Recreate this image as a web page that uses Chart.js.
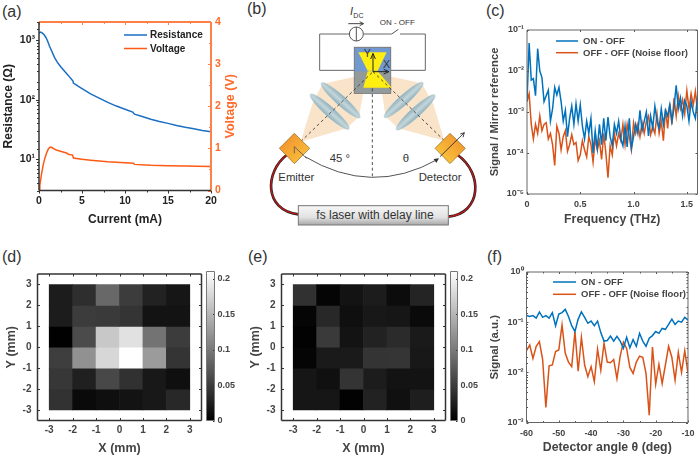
<!DOCTYPE html>
<html>
<head>
<meta charset="utf-8">
<title>THz emission panels</title>
<script src="https://cdn.jsdelivr.net/npm/chart.js@4/dist/chart.umd.min.js"></script>
<style>
  html, body { margin: 0; padding: 0; background: #fff; overflow: hidden; }
  #page { position: relative; width: 700px; height: 457px; overflow: hidden; font-family: "Liberation Sans", Arial, sans-serif; }
  #page canvas { position: absolute; }
  .tag { position: absolute; font-size: 16px; color: #333; line-height: 18px; }
  #schematic { position: absolute; left: 235px; top: 0; width: 250px; height: 235px; overflow: visible; }
  #schematic text { font-family: "Liberation Sans", Arial, sans-serif; fill: #333; }
</style>
</head>
<body>
<div id="page">
  <span class="tag" style="left:2px;top:3px">(a)</span>
  <span class="tag" style="left:247px;top:0px">(b)</span>
  <span class="tag" style="left:486px;top:2px">(c)</span>
  <span class="tag" style="left:2px;top:248px">(d)</span>
  <span class="tag" style="left:248px;top:248px">(e)</span>
  <span class="tag" style="left:487px;top:248px">(f)</span>

  <!-- (b) experiment sketch, viewBox is 3x the page pixels -->
  <svg id="schematic" viewBox="0 0 750 705">
    <defs>
      <linearGradient id="emit" x1="0" y1="0" x2="1" y2="1"><stop offset="0" stop-color="#f08a2c"/><stop offset="1" stop-color="#fbc83e"/></linearGradient>
      <linearGradient id="det" x1="1" y1="0" x2="0" y2="1"><stop offset="0" stop-color="#f08a2c"/><stop offset="1" stop-color="#fbd040"/></linearGradient>
      <linearGradient id="boxFill" x1="0" y1="0" x2="0" y2="1"><stop offset="0" stop-color="#f6f6f6"/><stop offset="0.6" stop-color="#e2e2e2"/><stop offset="1" stop-color="#a8a8a8"/></linearGradient>
      <linearGradient id="lens" x1="0" y1="0" x2="0" y2="1"><stop offset="0" stop-color="#8fb0bc"/><stop offset="0.5" stop-color="#c4d6da"/><stop offset="1" stop-color="#8fb0bc"/></linearGradient>
    </defs>
    <path d="M358 102 H254 V211 H358 M467 211 H571 V102 H495 M470 102 H386" fill="none" stroke="#666" stroke-width="3"/>
    <path d="M470 102 L490 88" fill="none" stroke="#555" stroke-width="3"/>
    <circle cx="364" cy="102" r="21" fill="#fff" stroke="#555" stroke-width="3"/>
    <line x1="364" y1="81" x2="364" y2="123" stroke="#555" stroke-width="3"/>
    <path d="M340 71 H384 M374 65 L386 71 L374 77" fill="none" stroke="#444" stroke-width="3"/>
    <text x="345" y="45" font-size="33" font-style="italic">I</text>
    <text x="355" y="54" font-size="21">DC</text>
    <text x="434" y="75" font-size="24">ON - OFF</text>

    <polygon points="197,425 232,312 262,252 395,222 372,350 335,385" fill="#f9e4ca"/>
    <polygon points="628,422 595,312 560,250 432,222 452,350 490,385" fill="#f9e4ca"/>

    <rect x="358" y="142" width="109" height="138" fill="#7199d0" stroke="#777" stroke-width="3"/>
    <rect x="359" y="214" width="107" height="65" fill="#929a9a"/>
    <polygon points="370,157 455,157 428,212 398,212" fill="#ffee10"/>
    <polygon points="398,214 428,214 470,263 385,263" fill="#ffee10"/>

    <ellipse cx="317" cy="301" rx="78" ry="15" fill="url(#lens)" stroke="#a8c0c8" transform="rotate(42 317 301)"/>
    <ellipse cx="284" cy="335" rx="78" ry="15" fill="url(#lens)" stroke="#a8c0c8" transform="rotate(42 284 335)"/>
    <ellipse cx="506" cy="300" rx="78" ry="15" fill="url(#lens)" stroke="#a8c0c8" transform="rotate(-42 506 300)"/>
    <ellipse cx="542" cy="337" rx="78" ry="15" fill="url(#lens)" stroke="#a8c0c8" transform="rotate(-42 542 337)"/>

    <g stroke="#333" stroke-width="2.5" stroke-dasharray="9 8" fill="none">
      <line x1="197" y1="425" x2="414" y2="215"/>
      <line x1="628" y1="422" x2="414" y2="215"/>
      <line x1="412" y1="265" x2="412" y2="530"/>
    </g>
    <path d="M414 215 V165 M407 177 L414 160 L421 177 M414 215 H458 M446 208 L462 215 L446 222" fill="none" stroke="#222" stroke-width="3"/>
    <text x="386" y="172" font-size="32">Y</text>
    <text x="444" y="204" font-size="32">X</text>

    <path d="M210 470 Q410 590 608 478" fill="none" stroke="#555" stroke-width="3"/>
    <path d="M596 477 L612 475 L604 489 Z" fill="#333"/>
    <text x="284" y="485" font-size="34">45 °</text>
    <text x="503" y="485" font-size="34">θ</text>

    <path d="M155 465 C90 515 85 630 190 643" fill="none" stroke="#222" stroke-width="8"/>
    <path d="M155 465 C90 515 85 630 190 643" fill="none" stroke="#c01818" stroke-width="4"/>
    <path d="M668 465 C745 520 740 640 640 650" fill="none" stroke="#222" stroke-width="8"/>
    <path d="M668 465 C745 520 740 640 640 650" fill="none" stroke="#c01818" stroke-width="4"/>

    <polygon points="178,400 224,445 178,491 133,445" fill="url(#emit)" stroke="#8a6a20" stroke-width="2"/>
    <path d="M178 440 L215 475 M178 440 L178 460" fill="none" stroke="#555" stroke-width="2.5"/>
    <polygon points="645,400 691,445 645,491 600,445" fill="url(#det)" stroke="#8a6a20" stroke-width="2"/>
    <path d="M615 470 L688 398 M676 402 L688 398 L684 412" fill="none" stroke="#222" stroke-width="2.5"/>

    <text x="130" y="543" font-size="34">Emitter</text>
    <text x="551" y="543" font-size="34">Detector</text>

    <rect x="190" y="617" width="450" height="58" fill="url(#boxFill)" stroke="#777" stroke-width="3"/>
    <text x="420" y="656" font-size="36" text-anchor="middle">fs laser with delay line</text>
  </svg>
</div>

<script>
// (a) current sweep
const curR = [0, 0.2, 0.4, 0.6, 0.8, 1, 1.2, 1.5, 1.8, 2.1, 2.5, 3, 3.4, 3.8, 3.95, 4, 4.5, 5, 6, 7, 8, 9, 10, 10.9, 11.1, 12, 13, 14, 15, 16, 17, 18, 19, 20];
const resistance = [1300, 1350, 1300, 1220, 1100, 960, 800, 640, 510, 430, 360, 295, 255, 218, 205, 190, 170, 153, 125, 106, 90, 78, 69, 62, 57, 52, 47, 43, 40, 37, 34.5, 32.5, 30.5, 29];
const curV = [0, 0.1, 0.3, 0.5, 0.7, 0.9, 1.1, 1.3, 1.5, 2, 2.5, 3.2, 3.4, 3.9, 4, 5, 6, 8, 10, 11, 11.1, 13, 15, 17, 20];
const voltage = [0, 0.13, 0.4, 0.62, 0.78, 0.9, 0.99, 1.03, 1.02, 0.96, 0.93, 0.89, 0.86, 0.84, 0.77, 0.74, 0.72, 0.68, 0.66, 0.645, 0.62, 0.6, 0.59, 0.58, 0.57];

// (c) spectrum
const freq = [0, 0.02, 0.04, 0.06, 0.08, 0.1, 0.12, 0.14, 0.16, 0.18, 0.2, 0.22, 0.24, 0.26, 0.28, 0.3, 0.32, 0.34, 0.36, 0.38,
  0.4, 0.42, 0.44, 0.46, 0.48, 0.5, 0.52, 0.54, 0.56, 0.58, 0.6, 0.62, 0.64, 0.66, 0.68, 0.7, 0.72, 0.74, 0.76, 0.78,
  0.8, 0.82, 0.84, 0.86, 0.88, 0.9, 0.92, 0.94, 0.96, 0.98, 1, 1.02, 1.04, 1.06, 1.08, 1.1, 1.12, 1.14, 1.16, 1.18,
  1.2, 1.22, 1.24, 1.26, 1.28, 1.3, 1.32, 1.34, 1.36, 1.38, 1.4, 1.42, 1.44, 1.46, 1.48, 1.5, 1.52, 1.54, 1.56, 1.58, 1.6];
const specOn = [1.8e-3, 4.8e-2, 6e-3, 6.5e-3, 2.5e-3, 3.5e-2, 1e-2, 7e-3, 1.8e-3, 2.5e-3, 3.4e-3, 6e-4, 1.2e-3, 4e-3, 2.6e-3, 4e-3, 1.8e-3, 6e-4, 1.1e-3, 2.5e-4,
  7e-4, 1.4e-3, 5e-4, 1.6e-3, 6e-4, 1.5e-3, 4.5e-4, 2.2e-4, 6e-4, 3e-4, 7e-4, 1e-4, 3.5e-4, 1.3e-4, 5e-4, 1.6e-4, 7e-4, 2e-4, 7.5e-4, 2.5e-4,
  1.5e-4, 5e-4, 3e-4, 6e-4, 2.2e-4, 1.5e-4, 4.5e-4, 1.4e-4, 7e-4, 1.3e-4, 2.5e-4, 5e-4, 3e-4, 1.1e-3, 3.5e-4, 6e-4, 1e-3, 2.6e-4, 8e-4, 4e-4,
  1.4e-3, 6e-4, 4e-4, 1.2e-3, 5e-4, 1.1e-3, 8e-4, 1.5e-3, 6e-4, 1.3e-3, 4.5e-3, 1.2e-3, 2.2e-3, 8e-4, 1.9e-3, 1.4e-3, 6e-4, 1.8e-3, 1e-3, 7e-4, 2.5e-3];
const specOff = [1.8e-3, 2.8e-3, 5e-4, 2.2e-4, 5e-4, 3e-4, 8e-4, 3.5e-4, 5e-4, 5.5e-4, 2.2e-4, 3e-4, 1.6e-4, 5e-5, 4.5e-4, 3e-4, 1.2e-4, 2.5e-4, 3.5e-4, 1.1e-4,
  1.6e-4, 2.8e-4, 1.6e-4, 1.8e-4, 6.5e-5, 9e-5, 2e-4, 1.2e-4, 8e-5, 2.5e-4, 1.6e-4, 6e-5, 2.2e-4, 1.2e-4, 2e-4, 7e-5, 3e-4, 1e-4, 2.5e-5, 1.5e-4,
  9e-5, 3e-4, 1.5e-4, 3e-4, 2e-4, 5e-4, 1.6e-4, 5e-4, 2.5e-4, 1.2e-4, 5.5e-4, 3e-4, 5e-4, 2.5e-4, 5.5e-4, 3e-4, 6e-4, 8e-4, 2.8e-4, 4.5e-4,
  3e-4, 9e-4, 3e-4, 6e-4, 2e-4, 1.2e-3, 4e-4, 1.6e-3, 5e-4, 2.2e-3, 8e-4, 2.5e-3, 1.2e-3, 2e-3, 9e-4, 3.3e-3, 1.2e-3, 2.8e-3, 1.5e-3, 3.2e-3, 1e-3];

// (d) and (e) maps, rows from top (Y 3) to bottom (Y -3)
const cellX = [-2.5, -1.5, -0.5, 0.5, 1.5, 2.5];
const rowSpans = [[2, 3], [1, 2], [0, 1], [-1, 0], [-2, -1], [-3, -2]];
const mapTicks = [-3, -2, -1, 0, 1, 2, 3];
const mapOn = [
  [0.023, 0.038, 0.086, 0.049, 0.028, 0.018],
  [0.023, 0.049, 0.048, 0.043, 0.016, 0.016],
  [0.001, 0.062, 0.165, 0.185, 0.095, 0.049],
  [0.051, 0.119, 0.177, 0.21, 0.128, 0.043],
  [0.045, 0.026, 0.059, 0.04, 0.02, 0.012],
  [0.041, 0.008, 0.012, 0.016, 0.02, 0.033]
];
const mapOff = [
  [0.04, 0.004, 0.016, 0.023, 0.01, 0.03],
  [0.004, 0.033, 0.012, 0.02, 0.018, 0.008],
  [0.002, 0.048, 0.016, 0.028, 0.035, 0.021],
  [0.004, 0.021, 0.021, 0.043, 0.044, 0.02],
  [0.018, 0.013, 0.043, 0.023, 0.016, 0.016],
  [0.018, 0.018, 0.002, 0.028, 0.013, 0.025]
];
const colorMax = 0.21;

// (f) angle scan
const angle = [-60, -59, -58, -57, -56, -55, -54, -53, -52, -51, -50, -49, -48, -47, -46, -45, -44, -43, -42, -41, -40, -39, -38, -37, -36,
  -35, -34, -33, -32, -31, -30, -29, -28, -27, -26, -25, -24, -23, -22, -21, -20, -19, -18, -17, -16, -15, -14, -13, -12, -11, -10];
const angleOn = [0.136, 0.13, 0.135, 0.12, 0.16, 0.125, 0.135, 0.12, 0.155, 0.085, 0.145, 0.155, 0.18, 0.13, 0.085, 0.065, 0.115, 0.16, 0.125, 0.095, 0.105, 0.085, 0.105, 0.062, 0.042,
  0.043, 0.053, 0.042, 0.052, 0.042, 0.03, 0.05, 0.031, 0.045, 0.033, 0.06, 0.042, 0.033, 0.048, 0.054, 0.065, 0.06, 0.075, 0.072, 0.09, 0.115, 0.09, 0.105, 0.1, 0.125, 0.11];
const angleOff = [0.027, 0.035, 0.019, 0.033, 0.041, 0.018, 0.002, 0.0135, 0.014, 0.026, 0.028, 0.088, 0.024, 0.016, 0.013, 0.065, 0.0105, 0.05, 0.014, 0.0082, 0.013, 0.0065, 0.029, 0.011, 0.038,
  0.016, 0.0155, 0.018, 0.0075, 0.021, 0.04, 0.03, 0.0125, 0.0095, 0.016, 0.021, 0.02, 0.0095, 0.0014, 0.032, 0.0058, 0.0145, 0.006, 0.014, 0.033, 0.02, 0.007, 0.025, 0.01, 0.027, 0.0095];

const INK = '#444444';
const FONT = '"Liberation Sans", Arial, sans-serif';
const SUP = { '-': '⁻', '0': '⁰', '1': '¹', '2': '²', '3': '³', '4': '⁴', '5': '⁵' };

function zip(xs, ys) {
  return xs.map((x, i) => ({ x: x, y: ys[i] }));
}

function logLabel(v) {
  const e = Math.log10(v);
  if (Math.abs(e - Math.round(e)) > 1e-6) return '';
  return '10' + String(Math.round(e)).split('').map(c => SUP[c]).join('');
}

// tick marks (negative length points outward), frame, legend and the upward reading right title
const decor = {
  id: 'decor',
  afterDatasetsDraw(chart, args, o) {
    const c = chart.ctx, a = chart.chartArea;
    c.save();
    (o.marks || []).forEach(m => {
      const s = chart.scales[m.scale];
      c.strokeStyle = m.color;
      c.lineWidth = m.width || 1;
      s.ticks.forEach(t => {
        const major = t.label !== '' && t.label !== undefined;
        const len = major ? m.major : m.minor;
        if (!len) return;
        const p = Math.round(s.getPixelForValue(t.value)) + 0.5;
        (m.edges).forEach(e => {
          c.beginPath();
          if (e === 'left') { c.moveTo(a.left, p); c.lineTo(a.left + len, p); }
          if (e === 'right') { c.moveTo(a.right, p); c.lineTo(a.right - len, p); }
          if (e === 'top') { c.moveTo(p, a.top); c.lineTo(p, a.top + len); }
          if (e === 'bottom') { c.moveTo(p, a.bottom); c.lineTo(p, a.bottom - len); }
          c.stroke();
        });
      });
    });
    (o.frame || []).forEach(f => {
      c.strokeStyle = f.color;
      c.lineWidth = f.width;
      c.beginPath();
      if (f.edge === 'left') { c.moveTo(a.left, a.top); c.lineTo(a.left, a.bottom); }
      if (f.edge === 'right') { c.moveTo(a.right, a.top); c.lineTo(a.right, a.bottom); }
      if (f.edge === 'top') { c.moveTo(a.left, a.top); c.lineTo(a.right, a.top); }
      if (f.edge === 'bottom') { c.moveTo(a.left, a.bottom); c.lineTo(a.right, a.bottom); }
      c.stroke();
    });
    if (o.key) {
      c.textBaseline = 'middle';
      c.textAlign = 'left';
      c.font = 'bold ' + o.key.size + 'px ' + FONT;
      chart.data.datasets.forEach((d, i) => {
        const y = o.key.y[i] - chart.canvas.offsetTop;
        const x0 = o.key.x[0] - chart.canvas.offsetLeft;
        const x1 = o.key.x[1] - chart.canvas.offsetLeft;
        c.strokeStyle = d.borderColor;
        c.lineWidth = d.borderWidth;
        c.beginPath();
        c.moveTo(x0, y);
        c.lineTo(x1, y);
        c.stroke();
        c.fillStyle = o.key.color;
        c.fillText(d.label, o.key.x[2] - chart.canvas.offsetLeft, y + 0.5);
      });
    }
    if (o.sideTitle) {
      c.translate(o.sideTitle.x - chart.canvas.offsetLeft, (a.top + a.bottom) / 2);
      c.rotate(-Math.PI / 2);
      c.textAlign = 'center';
      c.textBaseline = 'middle';
      c.font = 'bold ' + o.sideTitle.size + 'px ' + FONT;
      c.fillStyle = o.sideTitle.color;
      c.fillText(o.sideTitle.text, 0, 0);
    }
    c.restore();
  }
};

// box = canvas on the page, plot = wanted plot area on the page (both [left, top, right, bottom])
function addChart(box, plot, type, data, scales, decorOpts) {
  const cv = document.createElement('canvas');
  cv.width = box[2] - box[0];
  cv.height = box[3] - box[1];
  cv.style.left = box[0] + 'px';
  cv.style.top = box[1] + 'px';
  document.getElementById('page').appendChild(cv);

  const sizes = {
    left: plot[0] - box[0],
    right: box[2] - plot[2],
    top: plot[1] - box[1],
    bottom: box[3] - plot[3]
  };
  Object.values(scales).forEach(s => {
    s.afterFit = axis => {
      if (axis.options.position === 'left' || axis.options.position === 'right') axis.width = sizes[axis.options.position];
      else axis.height = sizes[axis.options.position];
    };
  });
  const hasRight = Object.values(scales).some(s => s.position === 'right');
  const hasLeft = Object.values(scales).some(s => s.position === 'left');
  return new Chart(cv, {
    type: type,
    data: data,
    options: {
      responsive: false,
      animation: false,
      events: [],
      layout: {
        autoPadding: false,
        padding: {
          left: hasLeft ? 0 : sizes.left,
          right: hasRight ? 0 : sizes.right,
          top: sizes.top,
          bottom: 0
        }
      },
      scales: scales,
      plugins: { legend: { display: false }, tooltip: { enabled: false }, decor: decorOpts }
    },
    plugins: [decor]
  });
}

function axisOpts(position, extra, tickFont, tickColor, pad) {
  return Object.assign({
    position: position,
    grid: { display: false, drawTicks: false },
    border: { display: false },
    ticks: {
      autoSkip: false,
      maxRotation: 0,
      includeBounds: false,
      padding: pad,
      color: tickColor,
      font: { family: FONT, size: tickFont, weight: 'bold' }
    }
  }, extra);
}

function titled(text, size, color) {
  return { display: true, text: text, color: color, padding: 0, font: { family: FONT, size: size, weight: 'bold' } };
}

// (a)
const ax = axisOpts('bottom', { type: 'linear', min: 0, max: 20, title: titled('Current (mA)', 12, '#222') }, 10.5, '#222', 4);
ax.ticks.stepSize = 2.5;
ax.ticks.callback = v => (v % 5 === 0 ? String(v) : '');
const ay = axisOpts('left', { type: 'logarithmic', min: 3, max: 2000, title: titled('Resistance (Ω)', 12, '#222') }, 10.5, '#222', 4);
ay.ticks.callback = logLabel;
const ay2 = axisOpts('right', { type: 'linear', min: 0, max: 4 }, 10.5, '#ff6a2a', 4);
ay2.ticks.stepSize = 0.5;
ay2.ticks.callback = v => (v % 1 === 0 ? String(v) : '');
addChart([1, 10, 238, 227], [39, 22, 211, 190.5], 'scatter', {
  datasets: [
    { label: 'Resistance', data: zip(curR, resistance), yAxisID: 'y', showLine: true, pointRadius: 0, borderColor: '#1a6fc4', borderWidth: 1.5 },
    { label: 'Voltage', data: zip(curV, voltage), yAxisID: 'y2', showLine: true, pointRadius: 0, borderColor: '#ff5a14', borderWidth: 1.5 }
  ]
}, { x: ax, y: ay, y2: ay2 }, {
  marks: [
    { scale: 'x', edges: ['bottom'], major: -3, minor: -2, color: '#333' },
    { scale: 'x', edges: ['top'], major: 3, minor: 2, color: '#ff7f45' },
    { scale: 'y', edges: ['left'], major: -3, minor: -2, color: '#333' },
    { scale: 'y2', edges: ['right'], major: 3, minor: 2, color: '#ff7f45' }
  ],
  frame: [
    { edge: 'top', color: '#ff8048', width: 2 },
    { edge: 'right', color: '#ff8048', width: 2 },
    { edge: 'left', color: '#333', width: 1.5 },
    { edge: 'bottom', color: '#333', width: 1.5 }
  ],
  key: { x: [124, 147, 150], y: [35, 48.5], size: 10, color: '#222' },
  sideTitle: { x: 231, text: 'Voltage (V)', size: 12.5, color: '#ff6a2a' }
});

// (c)
const cx = axisOpts('bottom', { type: 'linear', min: 0, max: 1.6, title: titled('Frequency (THz)', 12.3, INK) }, 9, INK, 5);
cx.ticks.stepSize = 0.5;
const cy = axisOpts('left', { type: 'logarithmic', min: 1e-5, max: 1e-1, title: titled('Signal / Mirror reference', 11.2, INK) }, 9, INK, 3);
cy.ticks.callback = logLabel;
addChart([488, 10, 700, 227], [527, 30, 697.5, 194], 'scatter', {
  datasets: [
    { label: 'ON - OFF', data: zip(freq, specOn), showLine: true, pointRadius: 0, borderColor: '#0072BD', borderWidth: 1.5 },
    { label: 'OFF - OFF (Noise floor)', data: zip(freq, specOff), showLine: true, pointRadius: 0, borderColor: '#D95319', borderWidth: 1.5 }
  ]
}, { x: cx, y: cy }, {
  marks: [
    { scale: 'x', edges: ['bottom', 'top'], major: 2, minor: 0, color: '#555' },
    { scale: 'y', edges: ['left', 'right'], major: 2, minor: 0, color: '#555' }
  ],
  frame: ['top', 'right', 'left', 'bottom'].map(e => ({ edge: e, color: '#666', width: 1 })),
  key: { x: [556, 578, 583], y: [41, 52.7], size: 9.5, color: INK }
});

// (f)
const fx = axisOpts('bottom', { type: 'linear', min: -60, max: -10, title: titled('Detector angle θ (deg)', 12.3, INK) }, 9, INK, 5.5);
fx.ticks.stepSize = 5;
fx.ticks.callback = v => (v % 10 === 0 ? String(v) : '');
const fy = axisOpts('left', { type: 'logarithmic', min: 1e-3, max: 1, title: titled('Signal (a.u.)', 11.4, INK) }, 9, INK, 3);
fy.ticks.callback = logLabel;
addChart([488, 262, 700, 455], [526.5, 272, 694.5, 422.5], 'scatter', {
  datasets: [
    { label: 'ON - OFF', data: zip(angle, angleOn), showLine: true, pointRadius: 0, borderColor: '#0072BD', borderWidth: 1.5 },
    { label: 'OFF - OFF (Noise floor)', data: zip(angle, angleOff), showLine: true, pointRadius: 0, borderColor: '#D95319', borderWidth: 1.5 }
  ]
}, { x: fx, y: fy }, {
  marks: [
    { scale: 'x', edges: ['bottom', 'top'], major: 2, minor: 1.5, color: '#555' },
    { scale: 'y', edges: ['left', 'right'], major: 2, minor: 1.5, color: '#555' }
  ],
  frame: ['top', 'right', 'left', 'bottom'].map(e => ({ edge: e, color: '#666', width: 1 })),
  key: { x: [553, 576, 581], y: [282, 294.3], size: 9.5, color: INK }
});

// (d) and (e) maps are floating bars, one dataset per row
function grey(v) {
  const g = Math.round(Math.min(v / colorMax, 1) * 255);
  return 'rgb(' + g + ',' + g + ',' + g + ')';
}

function useMapTicks(axis) {
  axis.ticks = mapTicks.map(v => ({ value: v }));
}

function mapChart(values, box, plot) {
  const x = axisOpts('bottom', { type: 'linear', min: -3.5, max: 3.5, offset: false, afterBuildTicks: useMapTicks, title: titled('X (mm)', 12.5, INK) }, 10, INK, 4);
  const y = axisOpts('left', { type: 'linear', min: -3.5, max: 3.5, afterBuildTicks: useMapTicks, title: titled('Y (mm)', 12.5, INK) }, 10, INK, 6);
  addChart(box, plot, 'bar', {
    datasets: values.map((row, r) => ({
      label: 'Y ' + rowSpans[r][0] + ' to ' + rowSpans[r][1],
      data: row.map((v, i) => ({ x: cellX[i], y: rowSpans[r] })),
      backgroundColor: row.map(grey),
      grouped: false,
      barPercentage: 1,
      categoryPercentage: 1,
      borderWidth: 0
    }))
  }, { x: x, y: y }, {
    marks: [
      { scale: 'x', edges: ['bottom', 'top'], major: 2.5, minor: 0, color: '#333' },
      { scale: 'y', edges: ['left', 'right'], major: 2.5, minor: 0, color: '#333' }
    ],
    frame: ['top', 'right', 'left', 'bottom'].map(e => ({ edge: e, color: '#333', width: 1.5 }))
  });
}

function colorBar(box, plot) {
  const y = axisOpts('right', { type: 'linear', min: 0, max: colorMax }, 9, INK, 3);
  y.ticks.stepSize = 0.05;
  y.ticks.callback = v => String(+v.toFixed(2));
  const x = axisOpts('bottom', { type: 'category', display: false });
  addChart(box, plot, 'bar', {
    labels: ['scale'],
    datasets: [{
      label: 'scale',
      data: [[0, colorMax]],
      barPercentage: 1,
      categoryPercentage: 1,
      backgroundColor: ctx => {
        const a = ctx.chart.chartArea;
        if (!a) return '#888';
        const g = ctx.chart.ctx.createLinearGradient(0, a.bottom, 0, a.top);
        g.addColorStop(0, '#000');
        g.addColorStop(1, '#fff');
        return g;
      }
    }]
  }, { x: x, y: y }, {
    marks: [{ scale: 'y', edges: ['right'], major: 1.5, minor: 0, color: '#333' }],
    frame: ['top', 'right', 'left', 'bottom'].map(e => ({ edge: e, color: '#777', width: 1 }))
  });
}

mapChart(mapOn, [4, 262, 204, 456], [37.5, 271.5, 201.5, 420.5]);
colorBar([204, 262, 240, 430], [206.5, 271.5, 214.5, 420.5]);
mapChart(mapOff, [248, 262, 448, 456], [281.5, 271.5, 445.5, 420.5]);
colorBar([448, 262, 486, 430], [450.5, 271.5, 457.5, 420.5]);
</script>
</body>
</html>
